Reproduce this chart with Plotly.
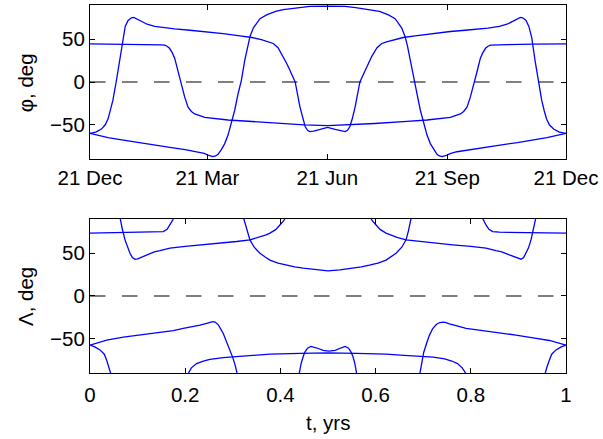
import plotly.graph_objects as go

# ---------------- data: latitude phi (deg) over one year ----------------
PHI1_T = [0.000, 0.012, 0.024, 0.032, 0.038, 0.043, 0.048, 0.055, 0.062, 0.069,
          0.074, 0.080, 0.087, 0.092, 0.100, 0.108, 0.120, 0.136, 0.160, 0.178,
          0.210, 0.241, 0.280, 0.315, 0.340, 0.360, 0.375, 0.385, 0.395, 0.406,
          0.413, 0.420, 0.431, 0.441, 0.447, 0.452, 0.457, 0.462, 0.470, 0.483,
          0.499, 0.515, 0.528, 0.536, 0.541, 0.546, 0.551, 0.557, 0.567, 0.578,
          0.585, 0.592, 0.603, 0.613, 0.623, 0.638, 0.658, 0.683, 0.718, 0.757,
          0.788, 0.818, 0.836, 0.860, 0.876, 0.888, 0.896, 0.904, 0.909, 0.916,
          0.922, 0.928, 0.935, 0.942, 0.949, 0.954, 0.959, 0.965, 0.974, 0.986,
          1.000]
PHI1_V = [-60, -58.5, -55, -50, -43, -33, -21.6, 0, 25, 52,
          65, 72, 75, 75.6, 73.5, 70.8, 67.5, 65, 63, 62,
          60.5, 59, 56.5, 54, 52, 49.5, 47, 45, 40, 30,
          22, 13.8, 0, -29, -43, -52, -56.5, -58, -57.5, -55.5,
          -53, -55.5, -57.5, -58, -56.5, -52, -43, -29, 0, 13.8,
          22, 30, 40, 45, 47, 49.5, 52, 54, 56.5, 59,
          60.5, 62, 63, 65, 67.5, 70.8, 73.5, 75.6, 75, 72,
          65, 52, 25, 0, -21.6, -33, -43, -50, -55, -58.5,
          -60]

PHI2_T = [0.000, 0.038, 0.070, 0.100, 0.140, 0.171, 0.200, 0.227, 0.240, 0.248,
          0.258, 0.264, 0.269, 0.276, 0.283, 0.290, 0.297, 0.304, 0.311, 0.318,
          0.325, 0.331, 0.336, 0.343, 0.357, 0.371, 0.390, 0.406, 0.440, 0.462,
          0.499, 0.536, 0.558, 0.592, 0.608, 0.627, 0.641, 0.655, 0.662, 0.667,
          0.673, 0.680, 0.687, 0.694, 0.701, 0.708, 0.715, 0.722, 0.729, 0.734,
          0.740, 0.750, 0.758, 0.771, 0.798, 0.827, 0.858, 0.898, 0.928, 0.960,
          1.000]
PHI2_V = [-60, -65, -68, -70.8, -74, -76.7, -79, -81.5, -83.5, -85.4,
          -87.2, -86.5, -84.5, -79, -72, -62, -49, -33, -14, 2,
          25, 42, 53, 63, 74, 78.5, 82.5, 84.5, 87, 88.3,
          88.8, 88.3, 87, 84.5, 82.5, 78.5, 74, 63, 53, 42,
          25, 2, -14, -33, -49, -62, -72, -79, -84.5, -86.5,
          -87.2, -85.4, -83.5, -81.5, -79, -76.7, -74, -70.8, -68, -65,
          -60]

PHI3_T = [0.000, 0.066, 0.120, 0.150, 0.157, 0.162, 0.167, 0.173, 0.178, 0.185,
          0.190, 0.195, 0.199, 0.206, 0.213, 0.220, 0.230, 0.241, 0.290, 0.332,
          0.400, 0.450, 0.499, 0.548, 0.598, 0.666, 0.708, 0.757, 0.768, 0.778,
          0.785, 0.792, 0.799, 0.803, 0.808, 0.813, 0.820, 0.825, 0.831, 0.836,
          0.841, 0.848, 0.878, 0.932, 1.000]
PHI3_V = [44.5, 44.3, 43.8, 43.3, 43, 41.8, 39.4, 34, 27.6, 12,
          0, -10, -17.7, -29.5, -34.5, -37.3, -39.5, -41.3, -44.4, -46,
          -48.5, -50, -51, -50, -48.5, -46, -44.4, -41.3, -39.5, -37.3,
          -34.5, -29.5, -17.7, -10, 0, 12, 27.6, 34, 39.4, 41.8,
          43, 43.3, 43.8, 44.3, 44.5]

# ---------------- data: longitude Lambda (deg), segments inside +-90 ----------------
LAM_A_T = [0.000, 0.050, 0.100, 0.140, 0.154, 0.162, 0.168, 0.174, 0.180]
LAM_A_V = [73.5, 73.8, 74.2, 74.6, 75.3, 78, 83, 89, 96]

LAM_A2_T = [0.820, 0.826, 0.832, 0.838, 0.846, 0.860, 0.900, 0.950, 1.000]
LAM_A2_V = [96, 89, 83, 78, 75.3, 74.6, 74.2, 73.8, 73.5]

LAM_C_T = [0.060, 0.063, 0.068, 0.0735, 0.079, 0.084, 0.089, 0.0945, 0.100, 0.110,
           0.119, 0.135, 0.147, 0.168, 0.200, 0.238, 0.270, 0.308, 0.336, 0.355,
           0.370, 0.378, 0.390, 0.399, 0.407, 0.415]
LAM_C_V = [100, 90, 78, 65.6, 56, 50, 45, 43, 43.5, 46,
           48, 51.5, 53, 55.9, 58, 59.8, 61.8, 63.7, 65.6, 68.5,
           71.5, 73.5, 77.5, 83, 88, 96]

LAM_C2_T = [0.585, 0.593, 0.601, 0.610, 0.622, 0.630, 0.645, 0.664, 0.692, 0.730,
            0.762, 0.800, 0.832, 0.853, 0.865, 0.881, 0.890, 0.900, 0.9055, 0.911,
            0.916, 0.921, 0.9265, 0.932, 0.937, 0.940]
LAM_C2_V = [96, 88, 83, 77.5, 73.5, 71.5, 68.5, 65.6, 63.7, 61.8,
            59.8, 58, 55.9, 53, 51.5, 48, 46, 43.5, 43, 45,
            50, 56, 65.6, 78, 90, 100]

LAM_B_T = [0.318, 0.3235, 0.330, 0.336, 0.345, 0.357, 0.368, 0.378, 0.395, 0.413,
           0.430, 0.448, 0.475, 0.500, 0.525, 0.552, 0.570, 0.587, 0.605, 0.622,
           0.632, 0.643, 0.655, 0.664, 0.669, 0.673, 0.678]
LAM_B_V = [100, 90, 76, 65.6, 57, 50, 45.5, 42, 38.5, 36,
           34, 32.5, 30.5, 29.3, 30.5, 32.5, 34, 36, 38.5, 42,
           45.5, 50, 57, 65.6, 76, 90, 100]

LAM_N1_T = [0.000, 0.035, 0.070, 0.105, 0.147, 0.175, 0.196, 0.215, 0.231, 0.245,
            0.252, 0.258, 0.263, 0.270, 0.280, 0.287, 0.294, 0.300, 0.305, 0.310,
            0.313]
LAM_N1_V = [-57.4, -51.6, -48, -45.7, -43, -40.5, -37.9, -36, -34, -32,
            -30.8, -30, -30.5, -34, -43.8, -53, -63, -72, -81, -92,
            -100]

LAM_N2_T = [0.000, 0.010, 0.021, 0.030, 0.035, 0.040, 0.044, 0.047]
LAM_N2_V = [-57.4, -59.5, -63, -68, -75, -83, -90, -97]

LAM_N3_T = [0.202, 0.207, 0.213, 0.224, 0.238, 0.252, 0.280, 0.308, 0.340, 0.378,
            0.441, 0.500, 0.560, 0.622, 0.660, 0.692, 0.721, 0.745, 0.760, 0.772,
            0.782, 0.789, 0.794]
LAM_N3_V = [-100, -90, -84, -79, -76, -74, -72, -71, -69.5, -68,
            -67, -66.5, -67, -68, -69.5, -70.5, -71.5, -73.5, -76, -79,
            -84, -90, -100]

LAM_N4_T = [0.436, 0.439, 0.444, 0.449, 0.452, 0.457, 0.464, 0.475, 0.490, 0.502,
            0.515, 0.528, 0.536, 0.543, 0.548, 0.552, 0.556, 0.560, 0.563]
LAM_N4_V = [-100, -90, -78, -69, -65, -61, -59, -60.5, -63.5, -64.5,
            -63.5, -60.5, -59, -61, -65, -70, -78, -90, -100]

LAM_N1B_T = [0.690, 0.693, 0.697, 0.701, 0.707, 0.713, 0.720, 0.728, 0.735, 0.742,
             0.748, 0.755, 0.769, 0.790, 0.825, 0.861, 0.895, 0.931, 0.965, 1.000]
LAM_N1B_V = [-100, -90, -78, -66, -55.5, -46, -38, -33, -31, -30.5,
             -31, -32.5, -34.5, -37.9, -40.5, -43, -45.7, -48.9, -52, -57.4]

LAM_N2B_T = [0.953, 0.956, 0.960, 0.965, 0.970, 0.979, 0.990, 1.000]
LAM_N2B_V = [-97, -90, -83, -75, -68, -63, -59.5, -57.4]

DATE_TICKS = [0.0, 0.2466, 0.4986, 0.7507, 1.0]
DATE_LABELS = ["21 Dec", "21 Mar", "21 Jun", "21 Sep", "21 Dec"]
YEAR_TICKS = [0, 0.2, 0.4, 0.6, 0.8, 1]
YEAR_LABELS = ["0", "0.2", "0.4", "0.6", "0.8", "1"]
DEG_TICKS = [-50, 0, 50]
DEG_LABELS = ["\u221250", "0", "50"]

BLUE = "#0000FF"
FONT = "Liberation Sans"
FS = 20.5

fig = go.Figure()

# dashed zero reference lines
for xa, ya in (("x", "y"), ("x2", "y2")):
    fig.add_trace(go.Scatter(x=[0, 1], y=[0, 0], mode="lines", xaxis=xa, yaxis=ya,
                             line=dict(color="black", width=1.2, dash="15.5px,16.5px"),
                             hoverinfo="skip"))

top_curves = [(PHI1_T, PHI1_V), (PHI2_T, PHI2_V), (PHI3_T, PHI3_V)]
for t, v in top_curves:
    fig.add_trace(go.Scatter(x=t, y=v, mode="lines", xaxis="x", yaxis="y",
                             line=dict(color=BLUE, width=1.3)))

bottom_curves = [(LAM_A_T, LAM_A_V), (LAM_A2_T, LAM_A2_V), (LAM_C_T, LAM_C_V),
                 (LAM_C2_T, LAM_C2_V), (LAM_B_T, LAM_B_V), (LAM_N1_T, LAM_N1_V),
                 (LAM_N2_T, LAM_N2_V), (LAM_N3_T, LAM_N3_V), (LAM_N4_T, LAM_N4_V),
                 (LAM_N1B_T, LAM_N1B_V), (LAM_N2B_T, LAM_N2B_V)]
for t, v in bottom_curves:
    fig.add_trace(go.Scatter(x=t, y=v, mode="lines", xaxis="x2", yaxis="y2",
                             line=dict(color=BLUE, width=1.3)))

axis_common = dict(showline=True, linecolor="black", linewidth=1.2, mirror="ticks",
                   ticks="inside", ticklen=5, tickwidth=1, tickcolor="black",
                   showgrid=False, zeroline=False,
                   tickfont=dict(family=FONT, size=FS, color="black"))

fig.update_layout(
    width=603, height=439,
    margin=dict(l=90, r=37, t=5, b=66),
    paper_bgcolor="white", plot_bgcolor="white",
    showlegend=False,
    xaxis=dict(domain=[0, 1], anchor="y", range=[0, 1],
               tickvals=DATE_TICKS, ticktext=DATE_LABELS, **axis_common),
    yaxis=dict(domain=[0.5815, 1], anchor="x", range=[-90, 90],
               tickvals=DEG_TICKS, ticktext=DEG_LABELS, **axis_common),
    xaxis2=dict(domain=[0, 1], anchor="y2", range=[0, 1], ticklabelstandoff=3,
                tickvals=YEAR_TICKS, ticktext=YEAR_LABELS, **axis_common),
    yaxis2=dict(domain=[0, 0.4185], anchor="x2", range=[-90, 90],
                tickvals=DEG_TICKS, ticktext=DEG_LABELS, **axis_common),
    annotations=[
        dict(text="\u03c6, deg", xref="paper", yref="paper", x=-0.1366, y=0.79,
             xanchor="center", yanchor="middle", textangle=-90, showarrow=False,
             font=dict(family=FONT, size=FS, color="black")),
        dict(text="\u039b, deg", xref="paper", yref="paper", x=-0.1366, y=0.209,
             xanchor="center", yanchor="middle", textangle=-90, showarrow=False,
             font=dict(family=FONT, size=FS, color="black")),
        dict(text="t, yrs", xref="paper", yref="paper", x=0.5, y=-0.135,
             xanchor="center", yanchor="middle", showarrow=False,
             font=dict(family=FONT, size=FS, color="black")),
    ],
)

fig.write_html("out.html")
